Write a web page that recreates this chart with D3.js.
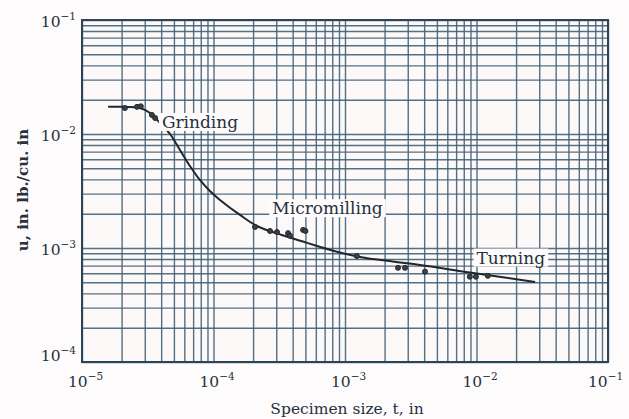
<!DOCTYPE html>
<html><head><meta charset="utf-8">
<script src="https://cdn.jsdelivr.net/npm/d3@7"></script>
<style>
html,body{margin:0;padding:0;background:#fdfbfb;}
svg{display:block;}
text{font-family:"DejaVu Serif","Liberation Serif",serif;fill:#26313b;}
</style></head>
<body><svg id="c" width="629" height="419"></svg>
<script>
// Data
const xDomain = [1e-5, 1e-1];
const yDomain = [1e-4, 1e-1];
const xTickExps = [-5, -4, -3, -2, -1];
const yTickExps = [-1, -2, -3, -4];
const curveT = [1.58e-5, 2.12e-5, 2.76e-5, 3.29e-5, 3.92e-5, 4.67e-5, 5.56e-5, 6.62e-5, 7.88e-5, 9.39e-5, 1.12e-4, 1.59e-4, 2.14e-4, 3.3e-4, 5.14e-4, 8.0e-4, 1.3e-3, 2.3e-3, 3.72e-3, 8.9e-3, 2.79e-2];
const curveU = [1.73e-2, 1.73e-2, 1.69e-2, 1.53e-2, 1.25e-2, 1.0e-2, 7.24e-3, 5.24e-3, 3.95e-3, 3.16e-3, 2.64e-3, 1.95e-3, 1.56e-3, 1.3e-3, 1.11e-3, 9.5e-4, 8.34e-4, 7.6e-4, 7.1e-4, 6.1e-4, 5.04e-4];
const pointT = [2.12e-5, 2.62e-5, 2.8e-5, 3.4e-5, 3.6e-5, 2.07e-4, 2.69e-4, 3.04e-4, 3.69e-4, 3.82e-4, 4.8e-4, 5.0e-4, 1.23e-3, 2.53e-3, 2.86e-3, 4.06e-3, 8.9e-3, 9.9e-3, 1.22e-2];
const pointU = [1.69e-2, 1.73e-2, 1.75e-2, 1.47e-2, 1.38e-2, 1.53e-3, 1.41e-3, 1.38e-3, 1.35e-3, 1.28e-3, 1.44e-3, 1.41e-3, 8.5e-4, 6.7e-4, 6.7e-4, 6.2e-4, 5.6e-4, 5.6e-4, 5.7e-4];
const labels = ["Grinding", "Micromilling", "Turning"];
const labelT = [4.05e-5, 2.8e-4, 1.0e-2];
const labelU = [1.13e-2, 1.98e-3, 7.3e-4];

const svg = d3.select("#c");
const L = 82, R = 608, T = 20, B = 362;
const x = d3.scaleLog().domain(xDomain).range([L, R]);
const y = d3.scaleLog().domain(yDomain).range([B, T]);
const gridColor = "#416078";

svg.append("rect").attr("x", L).attr("y", T).attr("width", R - L).attr("height", B - T).attr("fill", "#fdf9f9");

// grid via axes
const xg = svg.append("g").attr("transform", `translate(0,${B})`)
  .call(d3.axisBottom(x).tickValues(x.ticks()).tickSize(-(B - T)).tickFormat(""));
const yg = svg.append("g").attr("transform", `translate(${L},0)`)
  .call(d3.axisLeft(y).tickValues(y.ticks()).tickSize(-(R - L)).tickFormat(""));
[xg, yg].forEach(g => {
  g.select(".domain").remove();
  g.selectAll("line").attr("stroke", gridColor).attr("stroke-width", 1.4).attr("opacity", 0.9);
});
svg.append("rect").attr("x", L).attr("y", T).attr("width", R - L).attr("height", B - T)
  .attr("fill", "none").attr("stroke", "#2e4456").attr("stroke-width", 2);

// tick labels
function pow(sel, e) {
  sel.append("tspan").text("10");
  sel.append("tspan").attr("dy", -7).attr("font-size", 10.5).text("\u2212" + Math.abs(e));
}
xTickExps.forEach((e, i) => {
  const off = i === xTickExps.length - 1 ? 20 : 14;
  const t = svg.append("text").attr("x", x(Math.pow(10, e)) - off).attr("y", 387)
    .attr("font-size", 15.5);
  pow(t, e);
});
yTickExps.forEach(e => {
  const yy = e === -4 ? y(Math.pow(10, e)) - 1 : y(Math.pow(10, e)) + 7;
  const t = svg.append("text").attr("x", 76).attr("y", yy)
    .attr("text-anchor", "end").attr("font-size", 15.5);
  pow(t, e);
});

// axis titles
svg.append("text").attr("x", 347).attr("y", 414).attr("text-anchor", "middle")
  .attr("font-size", 15.5).text("Specimen size, t, in");
svg.append("text").attr("transform", "translate(28,190) rotate(-90)").attr("text-anchor", "middle")
  .attr("font-size", 15).attr("font-weight", "bold").text("u, in. lb./cu. in");

// curve
const line = d3.line().x(d => x(d[0])).y(d => y(d[1])).curve(d3.curveCatmullRom);
svg.append("path").datum(curveT.map((t, i) => [t, curveU[i]]))
  .attr("d", line).attr("fill", "none").attr("stroke", "#1f262c").attr("stroke-width", 2);

// points
svg.selectAll("circle.pt").data(pointT.map((t, i) => [t, pointU[i]])).enter().append("circle")
  .attr("class", "pt").attr("cx", d => x(d[0])).attr("cy", d => y(d[1])).attr("r", 2.5)
  .attr("fill", "#3a4046").attr("stroke", "#1f262c").attr("stroke-width", 1);

// labels
labels.forEach((s, i) => {
  const tx = x(labelT[i]), ty = y(labelU[i]);
  const t = svg.append("text").attr("x", tx).attr("y", ty).attr("font-size", 17).text(s);
  const bb = t.node().getBBox();
  svg.insert("rect", () => t.node()).attr("x", bb.x - 3).attr("y", bb.y + 1).attr("width", bb.width + 6)
    .attr("height", bb.height - 2).attr("fill", "#fdfbfb");
});
</script></body></html>
